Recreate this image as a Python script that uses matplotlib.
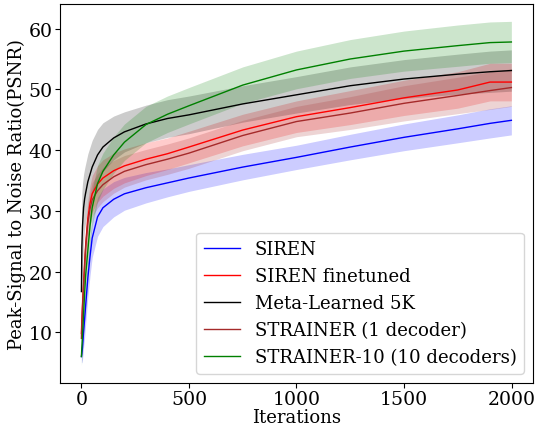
import numpy as np
import matplotlib
matplotlib.use("Agg")
import matplotlib.pyplot as plt

plt.rcParams['font.family'] = ['DejaVu Serif']

iters = [0, 2, 5, 10, 15, 20, 30, 40, 50, 75, 100, 150, 200, 300, 400, 500,
         750, 1000, 1250, 1500, 1750, 1900, 1999]

siren = [6.0, 6.5, 7.5, 10.0, 12.2, 14.5, 19.0, 22.5, 25.5, 29.0, 30.5, 31.9, 32.8,
         33.8, 34.6, 35.4, 37.2, 38.8, 40.5, 42.1, 43.5, 44.4, 44.9]
siren_sd = [1.0, 1.5, 2.0, 2.5, 3.0, 3.0, 3.2, 3.2, 3.2, 3.2, 3.1, 2.9, 2.7,
            2.5, 2.3, 2.2, 2.1, 2.0, 2.1, 2.2, 2.3, 2.4, 2.4]

finetuned = [9.8, 12.0, 14.5, 18.0, 21.5, 24.5, 28.8, 31.2, 32.8, 34.4, 35.4, 36.6, 37.4,
             38.5, 39.4, 40.5, 43.3, 45.5, 47.0, 48.6, 49.9, 51.2, 51.2]
finetuned_sd = [1.0, 1.5, 2.0, 2.5, 3.0, 3.0, 3.0, 3.0, 3.0, 3.0, 3.0, 2.9, 2.8,
                2.7, 2.6, 2.6, 2.6, 2.6, 2.8, 2.9, 3.0, 3.1, 3.1]

meta5k = [16.7, 24.0, 27.5, 30.5, 32.0, 33.0, 34.8, 36.0, 37.2, 39.2, 40.5, 42.0, 43.0,
          44.3, 45.2, 45.8, 47.6, 49.1, 50.6, 51.7, 52.5, 52.9, 53.1]
meta5k_sd = [12.0, 9.0, 7.0, 5.5, 5.0, 4.8, 4.6, 4.5, 4.4, 4.2, 4.0, 3.6, 3.3,
             3.1, 3.1, 3.1, 3.0, 3.0, 3.1, 3.2, 3.3, 3.4, 3.4]

strainer = [9.0, 11.5, 14.0, 17.5, 21.0, 24.0, 28.0, 30.3, 31.8, 33.3, 34.3, 35.6, 36.5,
            37.6, 38.5, 39.5, 42.4, 44.7, 46.1, 47.7, 49.0, 49.8, 50.3]
strainer_sd = [1.0, 1.5, 2.0, 2.5, 2.8, 2.8, 2.8, 2.8, 2.8, 2.8, 2.8, 2.7, 2.6,
               2.5, 2.5, 2.5, 2.5, 2.5, 2.7, 2.9, 3.0, 3.1, 3.1]

strainer10 = [6.0, 7.5, 9.5, 13.0, 16.5, 19.5, 23.5, 27.5, 30.5, 34.5, 36.5, 39.2, 41.3,
              44.2, 45.9, 47.3, 50.7, 53.2, 55.0, 56.3, 57.2, 57.7, 57.8]
strainer10_sd = [1.5, 2.0, 2.5, 3.0, 3.0, 3.0, 3.0, 3.0, 3.0, 3.0, 3.0, 3.0, 3.0,
                 3.0, 3.0, 3.0, 3.0, 3.1, 3.2, 3.3, 3.4, 3.4, 3.4]

series = [
    ("SIREN", siren, siren_sd, "blue"),
    ("SIREN finetuned", finetuned, finetuned_sd, "red"),
    ("Meta-Learned 5K", meta5k, meta5k_sd, "black"),
    ("STRAINER (1 decoder)", strainer, strainer_sd, "#a52a2a"),
    ("STRAINER-10 (10 decoders)", strainer10, strainer10_sd, "green"),
]

fig = plt.figure(figsize=(5.35, 4.27), dpi=100)
ax = fig.add_axes([0.112, 0.101, 0.884, 0.887])

x = np.array(iters)
for name, mean, sd, col in series:
    mean = np.array(mean)
    sd = np.array(sd)
    ax.plot(x, mean, color=col, lw=1, label=name)
    ax.fill_between(x, mean - sd, mean + sd, color=col, alpha=0.2, lw=0)

ax.set_xlabel("Iterations", fontsize=13, labelpad=0)
ax.set_ylabel("Peak-Signal to Noise Ratio(PSNR)", fontsize=13, labelpad=2)
ax.tick_params(labelsize=13.6, pad=1.5)
ax.legend(loc="lower right", fontsize=13.1, handlelength=2.0)

fig.savefig("out.png", dpi=100)
